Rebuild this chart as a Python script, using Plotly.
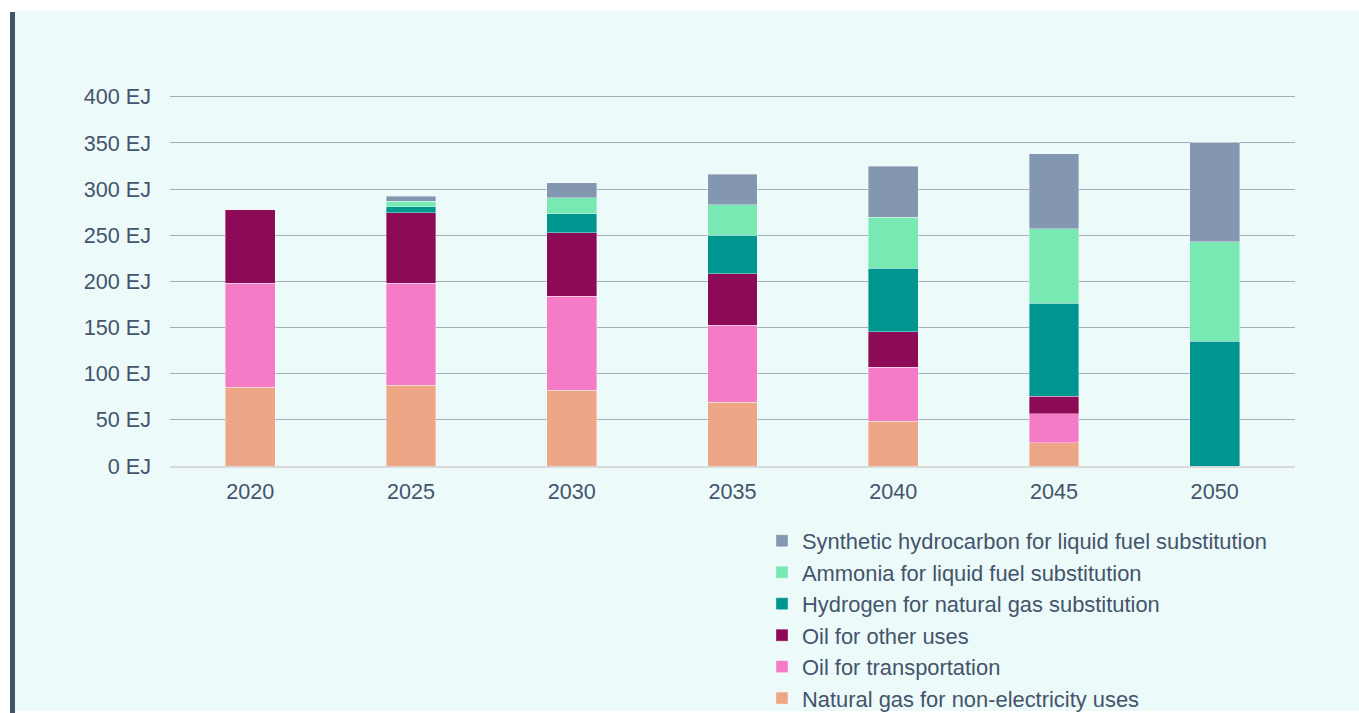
import plotly.graph_objects as go

years = ["2020", "2025", "2030", "2035", "2040", "2045", "2050"]

natural_gas = [85.5, 87.7, 82.0, 69.0, 48.7, 25.0, 0]
oil_transport = [112.5, 110.3, 102.0, 83.3, 58.4, 31.7, 0]
oil_other = [80.0, 76.2, 69.0, 56.0, 38.3, 18.8, 0]
hydrogen = [0, 6.8, 20.6, 41.6, 68.9, 101.0, 135.0]
ammonia = [0, 5.8, 17.0, 33.0, 55.2, 80.8, 107.8]
synthetic = [0, 5.7, 16.2, 33.0, 55.2, 80.8, 107.6]

series_names = [
    "Natural gas for non-electricity uses",
    "Oil for transportation",
    "Oil for other uses",
    "Hydrogen for natural gas substitution",
    "Ammonia for liquid fuel substitution",
    "Synthetic hydrocarbon for liquid fuel substitution",
]
series_values = [natural_gas, oil_transport, oil_other, hydrogen, ammonia, synthetic]
series_colors = ["#EDA686", "#F67BC6", "#8C0A56", "#009690", "#78E9B3", "#8497B0"]

TEXT = "#44546A"
FONT = "Liberation Sans, Arial, sans-serif"
FS = 21.6
LEG_FS = 21.9

fig = go.Figure()
for name, vals, col in zip(series_names, series_values, series_colors):
    fig.add_trace(go.Bar(
        x=years, y=vals, name=name,
        marker=dict(color=col, line=dict(color="rgba(255,255,255,0.45)", width=0.8)),
    ))

W, H = 1359, 713
L, R, T, B = 170, 64, 95, 247
pw = W - L - R
ph = H - T - B

def px_x(x):
    return (x - L) / pw

def px_y(y):
    return (H - B - y) / ph

shapes = [
    dict(type="rect", xref="paper", yref="paper", layer="below",
         x0=px_x(15), x1=px_x(1362), y0=px_y(711), y1=px_y(11),
         fillcolor="#ECFAFA", line=dict(width=0)),
    dict(type="rect", xref="paper", yref="paper", layer="below",
         x0=px_x(10), x1=px_x(15), y0=px_y(714), y1=px_y(12),
         fillcolor="#435466", line=dict(width=0)),
]

fig.update_layout(
    width=W, height=H,
    margin=dict(l=L, r=R, t=T, b=B, pad=0, autoexpand=False),
    paper_bgcolor="white",
    plot_bgcolor="rgba(0,0,0,0)",
    barmode="stack",
    bargap=0.69,
    font=dict(family=FONT, size=FS, color=TEXT),
    shapes=shapes,
    showlegend=True,
    legend=dict(
        traceorder="reversed",
        x=px_x(762), xanchor="left",
        y=px_y(520), yanchor="top",
        bgcolor="rgba(0,0,0,0)",
        font=dict(family=FONT, size=LEG_FS, color=TEXT),
        itemwidth=30,
    ),
    xaxis=dict(
        showgrid=False, showline=True, linecolor="#D9D9D9", linewidth=1.5,
        ticks="", ticklabelstandoff=5,
        tickfont=dict(family=FONT, size=FS, color=TEXT),
    ),
    yaxis=dict(
        range=[0, 402], dtick=50, tick0=0, ticksuffix=" EJ",
        showgrid=True, gridcolor="#A3AEB9", gridwidth=1,
        zeroline=False, showline=False, ticks="", ticklabelstandoff=18,
        tickfont=dict(family=FONT, size=FS, color=TEXT),
    ),
)

fig.write_html("out.html", config={"displayModeBar": False},
               post_script="document.body.style.margin='0px';")
